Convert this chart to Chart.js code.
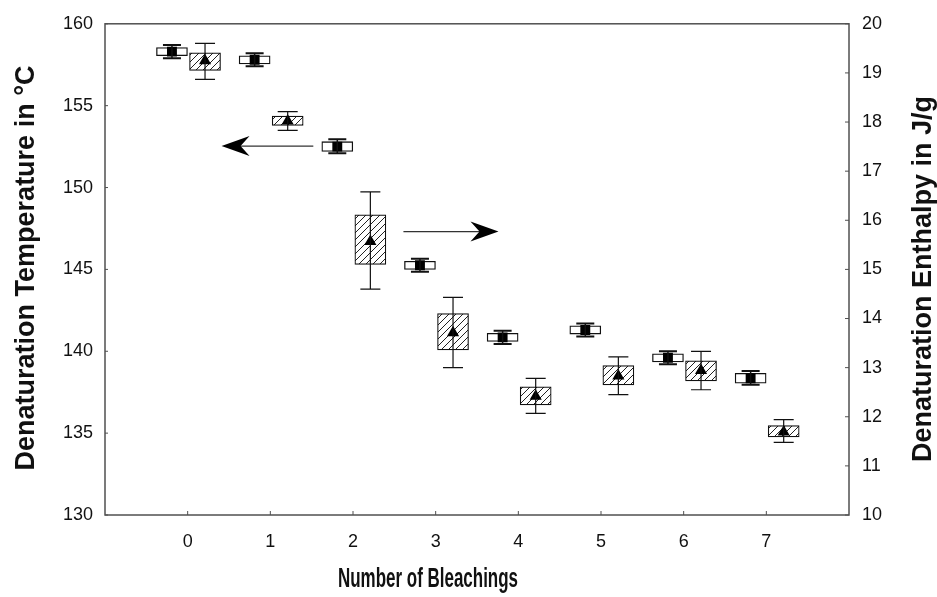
<!DOCTYPE html>
<html><head><meta charset="utf-8">
<script src="https://cdn.jsdelivr.net/npm/chart.js@4.4.1/dist/chart.umd.min.js"></script>
<style>html,body{margin:0;padding:0;background:#fff;}#wrap{width:937px;height:597px;}</style>
</head><body><div id="wrap"><canvas id="c" width="937" height="597"></canvas></div>
<script>
// ---- data ----
const bleachings = [0, 1, 2, 3, 4, 5, 6, 7];
const xTickLabels = ['0', '1', '2', '3', '4', '5', '6', '7'];

// Denaturation temperature (°C), left axis
const tempMean      = [158.3, 157.8, 152.5, 145.25, 140.85, 141.3, 139.6, 138.35];
const tempBoxLow    = [158.05, 157.55, 152.2, 145.0, 140.6, 141.05, 139.35, 138.05];
const tempBoxHigh   = [158.55, 158.05, 152.8, 145.5, 141.1, 141.55, 139.85, 138.65];
const tempWhiskLow  = [157.9, 157.4, 152.1, 144.85, 140.45, 140.9, 139.2, 137.95];
const tempWhiskHigh = [158.7, 158.2, 152.95, 145.65, 141.25, 141.7, 140.0, 138.8];

// Denaturation enthalpy (J/g), right axis
const enthMean      = [19.25, 18.02, 15.57, 13.71, 12.42, 12.83, 12.94, 11.69];
const enthBoxLow    = [19.05, 17.93, 15.10, 13.36, 12.24, 12.65, 12.73, 11.59];
const enthBoxHigh   = [19.41, 18.12, 16.11, 14.10, 12.61, 13.04, 13.14, 11.82];
const enthWhiskLow  = [18.87, 17.83, 14.60, 13.00, 12.07, 12.45, 12.55, 11.48];
const enthWhiskHigh = [19.60, 18.21, 16.58, 14.43, 12.78, 13.22, 13.33, 11.94];

const leftTicks = [130, 135, 140, 145, 150, 155, 160];
const rightTicks = [10, 11, 12, 13, 14, 15, 16, 17, 18, 19, 20];

// indicator arrows (data coordinates on x / left axis)
const arrowLeft  = {from: [1.52, 152.53], to: [0.41, 152.53]};
const arrowRight = {from: [2.61, 147.31], to: [3.76, 147.31]};

const tempShift = -0.19, enthShift = 0.21;

const xTitle = 'Number of Bleachings';
const yTitle = 'Denaturation Temperature in °C';
const y2Title = 'Denaturation Enthalpy in J/g';

// ---- hatch pattern ----
function hatch() {
  const s = 7, c = document.createElement('canvas');
  c.width = s; c.height = s;
  const g = c.getContext('2d');
  g.fillStyle = '#fff'; g.fillRect(0, 0, s, s);
  g.strokeStyle = '#222'; g.lineWidth = 1;
  g.beginPath();
  g.moveTo(-1, s + 1); g.lineTo(s + 1, -1);
  g.moveTo(-1, 1); g.lineTo(1, -1);
  g.moveTo(s - 1, s + 1); g.lineTo(s + 1, s - 1);
  g.stroke();
  return g.createPattern(c, 'repeat');
}
const pat = hatch();

const FONT = "'Liberation Sans', Arial, sans-serif";
const AXIS = '#505050';

const extras = {
  id: 'extras',
  afterDatasetsDraw(chart) {
    const ctx = chart.ctx, xs = chart.scales.x, ys = chart.scales.y, y2 = chart.scales.y2;
    ctx.save();
    ctx.strokeStyle = '#111';
    bleachings.forEach((b, i) => {
      let px = xs.getPixelForValue(b + tempShift);
      let t = ys.getPixelForValue(tempWhiskHigh[i]), l = ys.getPixelForValue(tempWhiskLow[i]);
      ctx.lineWidth = 1.5;
      ctx.beginPath(); ctx.moveTo(px, t); ctx.lineTo(px, l); ctx.stroke();
      ctx.lineWidth = 2;
      ctx.beginPath(); ctx.moveTo(px - 9, t); ctx.lineTo(px + 9, t); ctx.moveTo(px - 9, l); ctx.lineTo(px + 9, l); ctx.stroke();
      px = xs.getPixelForValue(b + enthShift);
      t = y2.getPixelForValue(enthWhiskHigh[i]); l = y2.getPixelForValue(enthWhiskLow[i]);
      ctx.lineWidth = 1.2;
      ctx.beginPath(); ctx.moveTo(px, t); ctx.lineTo(px, l);
      ctx.moveTo(px - 10, t); ctx.lineTo(px + 10, t); ctx.moveTo(px - 10, l); ctx.lineTo(px + 10, l); ctx.stroke();
    });
    ctx.restore();
  },
  afterDraw(chart) {
    const ctx = chart.ctx, a = chart.chartArea, xs = chart.scales.x, ys = chart.scales.y, y2 = chart.scales.y2;
    ctx.save();
    ctx.strokeStyle = AXIS; ctx.lineWidth = 1.5;
    ctx.strokeRect(a.left, a.top, a.right - a.left, a.bottom - a.top);
    ctx.lineWidth = 1;
    ctx.beginPath();
    bleachings.forEach(b => { const p = xs.getPixelForValue(b); ctx.moveTo(p, a.bottom); ctx.lineTo(p, a.bottom - 4); });
    rightTicks.forEach(v => { const p = y2.getPixelForValue(v); ctx.moveTo(a.right, p); ctx.lineTo(a.right - 4, p); });
    leftTicks.forEach(v => { const p = ys.getPixelForValue(v); ctx.moveTo(a.left, p); ctx.lineTo(a.left + 3, p); });
    ctx.stroke();
    [arrowLeft, arrowRight].forEach(ar => {
      const x0 = xs.getPixelForValue(ar.from[0]), y0 = ys.getPixelForValue(ar.from[1]);
      const x1 = xs.getPixelForValue(ar.to[0]), y1 = ys.getPixelForValue(ar.to[1]);
      const dir = Math.sign(x1 - x0);
      ctx.strokeStyle = '#333'; ctx.lineWidth = 1.3;
      ctx.beginPath(); ctx.moveTo(x0, y0); ctx.lineTo(x1 - dir * 18, y1); ctx.stroke();
      ctx.fillStyle = '#000';
      ctx.beginPath();
      ctx.moveTo(x1, y1);
      ctx.lineTo(x1 - dir * 28, y1 - 10);
      ctx.lineTo(x1 - dir * 19, y1);
      ctx.lineTo(x1 - dir * 28, y1 + 10);
      ctx.closePath(); ctx.fill();
    });
    ctx.fillStyle = '#111';
    ctx.textAlign = 'center'; ctx.textBaseline = 'middle';
    ctx.font = "bold 27px " + FONT;
    ctx.save();
    ctx.translate(27, 268);
    ctx.rotate(-Math.PI / 2);
    ctx.fillText(yTitle, 0, 0);
    ctx.restore();
    ctx.save();
    ctx.translate(924, 279);
    ctx.rotate(-Math.PI / 2);
    ctx.fillText(y2Title, 0, 0);
    ctx.restore();
    ctx.font = "bold 28px " + FONT;
    const w = ctx.measureText(xTitle).width;
    ctx.save();
    ctx.translate(428, 579);
    ctx.scale(180 / w, 1);
    ctx.fillText(xTitle, 0, 0);
    ctx.restore();
    ctx.restore();
  }
};

new Chart(document.getElementById('c'), {
  type: 'bar',
  data: {
    datasets: [
      {
        type: 'bar', label: 'Temperature box', yAxisID: 'y',
        data: bleachings.map((b, i) => ({x: b + tempShift, y: [tempBoxLow[i], tempBoxHigh[i]]})),
        backgroundColor: '#fff', borderColor: '#111', borderWidth: 1.3, borderSkipped: false,
        barThickness: 31, grouped: false, order: 3
      },
      {
        type: 'bar', label: 'Enthalpy box', yAxisID: 'y2',
        data: bleachings.map((b, i) => ({x: b + enthShift, y: [enthBoxLow[i], enthBoxHigh[i]]})),
        backgroundColor: pat, borderColor: '#111', borderWidth: 1.2, borderSkipped: false,
        barThickness: 31, grouped: false, order: 3
      },
      {
        type: 'scatter', label: 'Temperature', yAxisID: 'y',
        data: bleachings.map((b, i) => ({x: b + tempShift, y: tempMean[i]})),
        pointStyle: 'rect', radius: 7, backgroundColor: '#000', borderColor: '#000', borderWidth: 0, order: 1
      },
      {
        type: 'scatter', label: 'Enthalpy', yAxisID: 'y2',
        data: bleachings.map((b, i) => ({x: b + enthShift, y: enthMean[i]})),
        pointStyle: 'triangle', radius: 7, backgroundColor: '#000', borderColor: '#000', borderWidth: 0, order: 1
      }
    ]
  },
  options: {
    responsive: false, animation: false, devicePixelRatio: 1,
    layout: {padding: {top: 21, left: 0, right: 0, bottom: 0}},
    plugins: {legend: {display: false}, tooltip: {enabled: false}},
    scales: {
      x: {
        type: 'linear', min: -1, max: 8, offset: false,
        afterBuildTicks: s => { s.ticks = bleachings.map(v => ({value: v})); },
        afterFit: s => { s.height = 82; },
        grid: {display: false, drawTicks: false}, border: {display: false},
        ticks: {padding: 16, color: '#111', font: {family: FONT, size: 18},
                callback: v => xTickLabels[bleachings.indexOf(v)] ?? ''}
      },
      y: {
        type: 'linear', position: 'left', min: 130, max: 160,
        afterBuildTicks: s => { s.ticks = leftTicks.map(v => ({value: v})); },
        afterFit: s => { s.width = 105; },
        grid: {display: false, drawTicks: false}, border: {display: false},
        ticks: {padding: 12, color: '#111', font: {family: FONT, size: 18}}
      },
      y2: {
        type: 'linear', position: 'right', min: 10, max: 20,
        afterBuildTicks: s => { s.ticks = rightTicks.map(v => ({value: v})); },
        afterFit: s => { s.width = 88; },
        grid: {display: false, drawTicks: false}, border: {display: false},
        ticks: {padding: 13, color: '#111', font: {family: FONT, size: 18}}
      }
    }
  },
  plugins: [extras]
});
</script></body></html>
